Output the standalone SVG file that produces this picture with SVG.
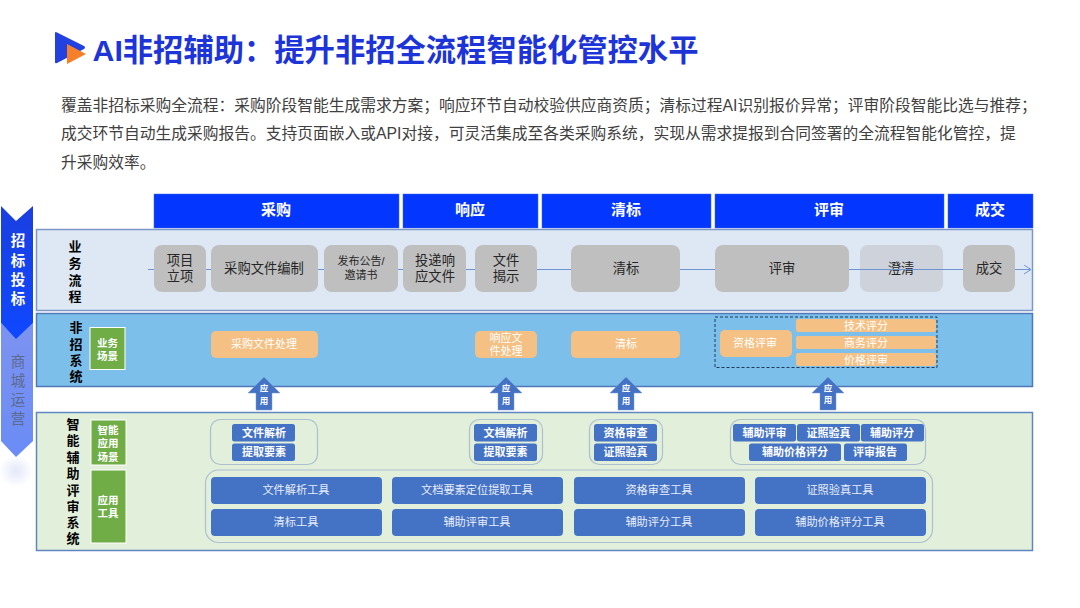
<svg xmlns="http://www.w3.org/2000/svg" width="1080" height="608" viewBox="0 0 1080 608">
<style>
text{font-family:"Liberation Sans","Noto Sans CJK SC",sans-serif;text-anchor:middle;dominant-baseline:central}
.hd rect{fill:#0336ff;stroke:#3a6ee8;stroke-width:.5}
.hd text{fill:#fff;font-size:15px;font-weight:700}
.band{stroke-width:1.5}
.rowt{font-size:13px;font-weight:700;fill:#000}
.p rect{fill:#bfbfbf}
.p text{fill:#262626;font-size:13.300px}
.o rect{fill:#f4c083}
.o text{fill:#fff;font-size:11px}
.g rect{fill:#70ad47;stroke:#fff;stroke-width:1}
.g text{fill:#fff;font-size:10.500px;font-weight:700}
.sc rect{fill:#4472c4}
.sc text{fill:#fff;font-size:11px;font-weight:700}
.t rect{fill:#4472c4}
.t text{fill:#e8eef8;font-size:11.200px}
.frame{fill:none;stroke:#adc0cf;stroke-width:1.2}
.up polygon{fill:#4472c4;stroke:#7e9ed6;stroke-width:.5}
.up text{fill:#fff;font-size:8.500px;font-weight:700}
.body{font-size:15.750px;fill:#404040;text-anchor:start}
.side{font-size:14.500px}
</style>
<defs>
<linearGradient id="blueArrow" x1="0" y1="0" x2="0" y2="1"><stop offset="0" stop-color="#1a3fe0"/><stop offset="1" stop-color="#0f48ff"/></linearGradient>
<linearGradient id="lightArrow" x1="0" y1="0" x2="0" y2="1"><stop offset="0" stop-color="#7d93f0"/><stop offset="1" stop-color="#6a8cf6"/></linearGradient>
<radialGradient id="blob"><stop offset="0" stop-color="#e3e8fa"/><stop offset="1" stop-color="#fff"/></radialGradient>
<marker id="open" markerWidth="10" markerHeight="10" refX="8" refY="5" orient="auto" markerUnits="userSpaceOnUse"><path d="M1 .5L8 5L1 9.500" fill="none" stroke="#6f94d4" stroke-width="1"/></marker>
</defs>

<g id="logo">
<path d="M55 33Q55 31.500 57 32.500L84 46Q86 47.500 84 49L57 63Q55 64 55 62Z" fill="#2340e0"/>
<path d="M67 44L86 54L67 64Z" fill="#f58029"/>
</g>
<text x="395.500" y="50" style="font-size:30.300px;font-weight:700;fill:#1c34d8">AI非招辅助：提升非招全流程智能化管控水平</text>

<text class="body" x="61" y="105">覆盖非招标采购全流程：采购阶段智能生成需求方案；响应环节自动校验供应商资质；清标过程AI识别报价异常；评审阶段智能比选与推荐；</text>
<text class="body" x="61" y="133">成交环节自动生成采购报告。支持页面嵌入或API对接，可灵活集成至各类采购系统，实现从需求提报到合同签署的全流程智能化管控，提</text>
<text class="body" x="61" y="162">升采购效率。</text>

<g id="side-arrows">
<ellipse cx="16" cy="471" rx="17" ry="16" fill="url(#blob)"/>
<polygon points="1,323 16,338 33,323 33,441 16,457 1,441" fill="url(#lightArrow)"/>
<text class="side" x="18" y="362" fill="#5b6a8f">商</text>
<text class="side" x="18" y="381" fill="#5b6a8f">城</text>
<text class="side" x="18" y="400" fill="#5b6a8f">运</text>
<text class="side" x="18" y="419" fill="#5b6a8f">营</text>
<polygon points="1,206 16,221 33,206 33,323 16,339 1,323" fill="url(#blueArrow)"/>
<text class="side" x="18" y="241" fill="#fff" font-weight="700">招</text>
<text class="side" x="18" y="261" fill="#fff" font-weight="700">标</text>
<text class="side" x="18" y="280" fill="#fff" font-weight="700">投</text>
<text class="side" x="18" y="299" fill="#fff" font-weight="700">标</text>
</g>

<g class="hd" id="headers">
<g id="h-caigou"><rect x="154" y="194" width="245" height="34"/><text x="276" y="209.500">采购</text></g>
<g id="h-xiangying"><rect x="403" y="194" width="135" height="34"/><text x="470" y="209.500">响应</text></g>
<g id="h-qingbiao"><rect x="542" y="194" width="169" height="34"/><text x="626" y="209.500">清标</text></g>
<g id="h-pingshen"><rect x="715" y="194" width="229" height="34"/><text x="829" y="209.500">评审</text></g>
<g id="h-chengjiao"><rect x="948" y="194" width="85" height="34"/><text x="990" y="209.500">成交</text></g>
</g>

<g id="bands">
<rect class="band" x="36.500" y="229.500" width="996" height="81" fill="#dee8f5" stroke="#7d97c6"/>
<rect class="band" x="36.500" y="313.500" width="996" height="73" fill="#7cbfea" stroke="#4f78b8"/>
<rect class="band" x="36.500" y="412.500" width="996" height="138" fill="#e2efda" stroke="#5f86c0"/>
<text class="rowt" x="75" y="246">业</text><text class="rowt" x="75" y="263">务</text><text class="rowt" x="75" y="280">流</text><text class="rowt" x="75" y="296">程</text>
<text class="rowt" x="76" y="327">非</text><text class="rowt" x="76" y="344">招</text><text class="rowt" x="76" y="360">系</text><text class="rowt" x="76" y="376">统</text>
<text class="rowt" x="73" y="424">智</text><text class="rowt" x="73" y="440">能</text><text class="rowt" x="73" y="457">辅</text><text class="rowt" x="73" y="473">助</text><text class="rowt" x="73" y="490">评</text><text class="rowt" x="73" y="506">审</text><text class="rowt" x="73" y="522">系</text><text class="rowt" x="73" y="538">统</text>
</g>

<g id="connectors">
<line x1="148" y1="269.500" x2="1031" y2="269.500" stroke="#6f94d4" stroke-width="1.200" marker-end="url(#open)"/>
</g>

<g class="g" id="green-labels">
<g id="g-yewu"><rect x="90" y="327.500" width="35" height="42"/><text x="107.500" y="343">业务</text><text x="107.500" y="356">场景</text></g>
<g id="g-zhineng"><rect x="91" y="420" width="35" height="45"/><text x="108" y="430">智能</text><text x="108" y="443">应用</text><text x="108" y="457">场景</text></g>
<g id="g-gongju"><rect x="91" y="470" width="35" height="73"/><text x="108" y="500">应用</text><text x="108" y="513">工具</text></g>
</g>

<g class="p" id="process">
<g id="p1"><rect x="154" y="245" width="52" height="47" rx="8"/><text x="180" y="260">项目</text><text x="180" y="276">立项</text></g>
<g id="p2"><rect x="211" y="245" width="107" height="47" rx="8"/><text x="264" y="268">采购文件编制</text></g>
<g id="p3"><rect x="324" y="245" width="74" height="47" rx="8"/><text x="361" y="261" style="font-size:11px">发布公告/</text><text x="361" y="275" style="font-size:11px">邀请书</text></g>
<g id="p4"><rect x="403" y="245" width="63" height="47" rx="8"/><text x="435" y="260">投递响</text><text x="435" y="276">应文件</text></g>
<g id="p5"><rect x="475" y="245" width="62" height="47" rx="8"/><text x="506" y="260">文件</text><text x="506" y="276">揭示</text></g>
<g id="p6"><rect x="571" y="245" width="109" height="47" rx="8"/><text x="626" y="268">清标</text></g>
<g id="p7"><rect x="715" y="245" width="134" height="47" rx="8"/><text x="782" y="268">评审</text></g>
<g id="p8"><rect x="860" y="245" width="83" height="47" rx="8" style="fill:#ced3db"/><text x="901" y="268">澄清</text><line x1="860" y1="269.500" x2="943" y2="269.500" stroke="#6f94d4" stroke-width="1.200"/></g>
<g id="p9"><rect x="963" y="245" width="52" height="47" rx="8"/><text x="989" y="268">成交</text></g>
</g>

<g class="o" id="scenes">
<g id="s1"><rect x="211" y="331" width="107" height="27" rx="5"/><text x="264" y="343.500">采购文件处理</text></g>
<g id="s2"><rect x="475" y="331" width="62" height="27" rx="5"/><text x="506" y="337.500">响应文</text><text x="506" y="350.500">件处理</text></g>
<g id="s3"><rect x="571" y="331" width="109" height="27" rx="5"/><text x="626" y="343.500">清标</text></g>
<g id="s4"><rect x="720" y="330" width="72" height="27" rx="5"/><text x="755" y="342.500">资格评审</text></g>
<g id="s5"><rect x="796" y="319" width="140" height="13" rx="2"/><text x="866" y="325.500">技术评分</text></g>
<g id="s6"><rect x="796" y="336" width="140" height="13" rx="2"/><text x="866" y="342.500">商务评分</text></g>
<g id="s7"><rect x="796" y="353" width="140" height="13" rx="2"/><text x="866" y="359.500">价格评审</text></g>
</g>
<rect id="score-box" x="715" y="317" width="222" height="50.500" fill="none" stroke="#1f3a5c" stroke-width="1" stroke-dasharray="3 2"/>

<g class="up" id="use-arrows">
<g id="u1"><polygon points="264,377 280,393 272,393 272,410 256,410 256,393 248,393"/><text x="264" y="388">应</text><text x="264" y="401">用</text></g>
<g id="u2"><polygon points="506,377 522,393 514,393 514,410 498,410 498,393 490,393"/><text x="506" y="388">应</text><text x="506" y="401">用</text></g>
<g id="u3"><polygon points="626,377 642,393 634,393 634,410 618,410 618,393 610,393"/><text x="626" y="388">应</text><text x="626" y="401">用</text></g>
<g id="u4"><polygon points="828,377 844,393 836,393 836,410 820,410 820,393 812,393"/><text x="828" y="388">应</text><text x="828" y="400">用</text></g>
</g>

<g id="app-frames">
<rect class="frame" x="210.500" y="419.500" width="107" height="45" rx="10"/>
<rect class="frame" x="469.500" y="419.500" width="73" height="45" rx="10"/>
<rect class="frame" x="589.500" y="419.500" width="73" height="45" rx="10"/>
<rect class="frame" x="730.500" y="419.500" width="195" height="45" rx="10"/>
<rect class="frame" x="205.500" y="470" width="727" height="72.500" rx="13"/>
</g>

<g class="sc" id="app-scenes">
<g id="a1"><rect x="232" y="424" width="63" height="17.500" rx="2.500"/><text x="264" y="432.500">文件解析</text></g>
<g id="a2"><rect x="232" y="443.500" width="63" height="17.500" rx="2.500"/><text x="264" y="452">提取要素</text></g>
<g id="a3"><rect x="474" y="424" width="63" height="17.500" rx="2.500"/><text x="505.500" y="432.500">文档解析</text></g>
<g id="a4"><rect x="474" y="443.500" width="63" height="17.500" rx="2.500"/><text x="505.500" y="452">提取要素</text></g>
<g id="a5"><rect x="594" y="424" width="63" height="17.500" rx="2.500"/><text x="625.500" y="432.500">资格审查</text></g>
<g id="a6"><rect x="594" y="443.500" width="63" height="17.500" rx="2.500"/><text x="625.500" y="452">证照验真</text></g>
<g id="a7"><rect x="733" y="424" width="63" height="17.500" rx="2.500"/><text x="764.500" y="432.500">辅助评审</text></g>
<g id="a8"><rect x="797" y="424" width="63" height="17.500" rx="2.500"/><text x="828.500" y="432.500">证照验真</text></g>
<g id="a9"><rect x="861" y="424" width="63" height="17.500" rx="2.500"/><text x="892" y="432.500">辅助评分</text></g>
<g id="a10"><rect x="749" y="443.500" width="92" height="17.500" rx="2.500"/><text x="795" y="452">辅助价格评分</text></g>
<g id="a11"><rect x="844" y="443.500" width="63" height="17.500" rx="2.500"/><text x="875" y="452">评审报告</text></g>
</g>

<g class="t" id="tools">
<g id="t1"><rect x="211" y="477" width="171" height="27" rx="4"/><text x="296" y="489.500">文件解析工具</text></g>
<g id="t2"><rect x="392" y="477" width="171" height="27" rx="4"/><text x="477" y="489.500">文档要素定位提取工具</text></g>
<g id="t3"><rect x="574" y="477" width="171" height="27" rx="4"/><text x="659" y="489.500">资格审查工具</text></g>
<g id="t4"><rect x="755" y="477" width="171" height="27" rx="4"/><text x="840" y="489.500">证照验真工具</text></g>
<g id="t5"><rect x="211" y="509" width="171" height="27" rx="4"/><text x="296" y="522">清标工具</text></g>
<g id="t6"><rect x="392" y="509" width="171" height="27" rx="4"/><text x="477" y="522">辅助评审工具</text></g>
<g id="t7"><rect x="574" y="509" width="171" height="27" rx="4"/><text x="659" y="522">辅助评分工具</text></g>
<g id="t8"><rect x="755" y="509" width="171" height="27" rx="4"/><text x="840" y="522">辅助价格评分工具</text></g>
</g>
</svg>
